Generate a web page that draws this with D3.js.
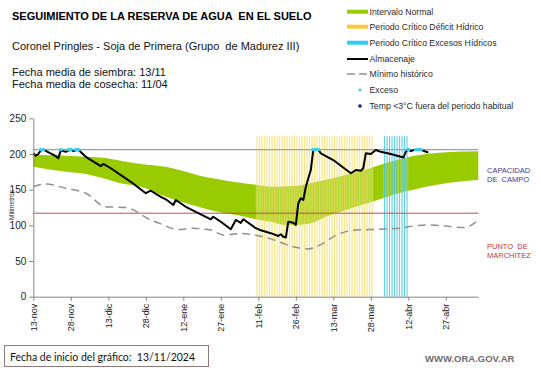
<!DOCTYPE html>
<html><head><meta charset="utf-8">
<script src="https://cdn.jsdelivr.net/npm/d3@7"></script>
<style>
html,body{margin:0;padding:0;background:#fff;}
svg{display:block;font-family:"Liberation Sans",Arial,sans-serif;}
</style></head>
<body>
<svg id="chart" width="541" height="368"></svg>
<script>
// ---------- DATA ----------
const tickDates = ["2024-11-13","2024-11-28","2024-12-13","2024-12-28","2025-01-12","2025-01-27","2025-02-11","2025-02-26","2025-03-13","2025-03-28","2025-04-12","2025-04-27"];
const tickLabels = ["13-nov","28-nov","13-dic","28-dic","12-ene","27-ene","11-feb","26-feb","13-mar","28-mar","12-abr","27-abr"];
const yTicks = [0,50,100,150,200,250];

const bandDates = ["2024-11-13","2024-11-26","2024-12-04","2024-12-10","2024-12-18","2024-12-26","2025-01-05","2025-01-12","2025-01-19","2025-01-27","2025-02-03","2025-02-11","2025-02-16","2025-02-21","2025-02-25","2025-03-04","2025-03-10","2025-03-17","2025-03-24","2025-03-31","2025-04-06","2025-04-14","2025-04-19","2025-04-27","2025-05-10"];
const bandUpper = [199,197.5,196,195,190.5,186,182,176,169,164,160,156.5,154,154.5,155,159.5,164,170,176,184,190,197,200,202.5,204];
const bandLower = [182,175,172,167,159,154,140,132,125,118,114,108,105,101,100.5,103,112,120,128,136,143,150,154,159,163.5];

const minDates = ["2024-11-13","2024-11-18","2024-11-26","2024-12-04","2024-12-12","2024-12-20","2024-12-30","2025-01-03","2025-01-10","2025-01-16","2025-01-19","2025-01-23","2025-01-28","2025-02-04","2025-02-10","2025-02-16","2025-02-20","2025-02-25","2025-03-03","2025-03-08","2025-03-14","2025-03-21","2025-03-31","2025-04-09","2025-04-14","2025-04-21","2025-04-27","2025-05-04","2025-05-08","2025-05-10"];
const minValues = [154,158,152,145,126,125,107.5,102,94,96,95,93.5,86.5,88.5,86,81,76,70,67,73,86,93,94.5,96,99,100.5,99,97,102,108.5];

const almDates = ["2024-11-13","2024-11-14","2024-11-15","2024-11-16","2024-11-17","2024-11-22","2024-11-23","2024-11-24","2024-11-26","2024-11-28","2024-11-29","2024-12-01","2024-12-04","2024-12-10","2024-12-11","2024-12-14","2024-12-22","2024-12-28","2024-12-30","2025-01-03","2025-01-05","2025-01-08","2025-01-09","2025-01-13","2025-01-17","2025-01-21","2025-01-23","2025-01-24","2025-01-27","2025-01-31","2025-02-02","2025-02-04","2025-02-05","2025-02-10","2025-02-12","2025-02-16","2025-02-19","2025-02-20","2025-02-21","2025-02-22","2025-02-23","2025-02-25","2025-02-26","2025-02-27","2025-02-28","2025-03-01","2025-03-02","2025-03-04","2025-03-05","2025-03-07","2025-03-08","2025-03-13","2025-03-20","2025-03-22","2025-03-24","2025-03-25","2025-03-26","2025-03-28","2025-03-30","2025-04-01","2025-04-05","2025-04-09","2025-04-10","2025-04-11","2025-04-12","2025-04-13","2025-04-14","2025-04-17","2025-04-20"];
const almValues = [201,197.5,200,205,206,197,194,205,203,206,204,206,196,183,186,180,161,145,148.5,140,136.5,128.5,135.5,126,119,112,108.5,112,105,94.5,107.5,103.5,108.5,96,93,89,85,87.5,84,83,105,103.5,100.5,131,138,135.5,154,177.5,206,206,201,191.5,173,177.5,176.5,180,201,200,205.5,203,200,196,195,203,206.5,204,205.5,206,202];

const excesoDates = ["2024-11-16","2024-11-17","2024-11-24","2024-11-27","2024-11-28","2024-11-30","2024-12-01","2025-03-05","2025-03-06","2025-03-07","2025-04-12","2025-04-15","2025-04-16","2025-04-17"];
const excesoValues = [206,206,206,206,206,206,206,206,206,206,206,206,206,206];

const deficitPeriod = ["2025-02-10","2025-03-28"];
const excesoPeriod = ["2025-04-02","2025-04-11"];
const periodTop = 225;
const capacidadCampo = 206;
const puntoMarchitez = 117;
const domainDates = ["2024-11-13","2025-05-10"];

const legendLabels = ["Intervalo Normal","Periodo Crítico Déficit Hídrico","Periodo Crítico Excesos Hídricos","Almacenaje","Mínimo histórico","Exceso","Temp <3°C fuera del periodo habitual"];

// ---------- CHART ----------
const parse = d3.timeParse("%Y-%m-%d");
const svg = d3.select("#chart");
const x = d3.scaleTime().domain(domainDates.map(parse)).range([33.3, 478.3]);
const y = d3.scaleLinear().domain([0,250]).range([296.7, 118.3]);

const COL_GREEN = "#99cc00";

// Green band
const band = bandDates.map((d,i)=>({date:parse(d), hi:bandUpper[i], lo:bandLower[i]}));
svg.append("path").datum(band)
  .attr("d", d3.area().x(d=>x(d.date)).y0(d=>y(d.lo)).y1(d=>y(d.hi)).curve(d3.curveMonotoneX))
  .attr("fill", COL_GREEN);

// Period bars (one per day)
function periodBars(period, fill, fillOp, stroke, strokeOp, sw){
  const days = d3.timeDay.range(parse(period[0]), d3.timeDay.offset(parse(period[1]),1));
  const g = svg.append("g");
  const w = x(d3.timeDay.offset(days[0],1)) - x(days[0]);
  g.selectAll("rect").data(days).join("rect")
    .attr("x", d=>x(d)).attr("width", w)
    .attr("y", y(periodTop)).attr("height", y(0)-y(periodTop))
    .attr("fill", fill).attr("fill-opacity", fillOp);
  g.selectAll("line").data(days).join("line")
    .attr("x1", d=>x(d)+w/2).attr("x2", d=>x(d)+w/2)
    .attr("y1", y(periodTop)).attr("y2", y(0))
    .attr("stroke", stroke).attr("stroke-width", sw).attr("stroke-opacity", strokeOp);
}
periodBars(deficitPeriod, "#fff4b8", 0.3, "#f0d860", 0.75, 0.9);
periodBars(excesoPeriod, "#d8f3fa", 0.25, "#40c2de", 0.9, 0.9);

// Reference lines
svg.append("line").attr("x1", x.range()[0]).attr("x2", x.range()[1])
  .attr("y1", y(capacidadCampo)).attr("y2", y(capacidadCampo))
  .attr("stroke", "#8fa3c2").attr("stroke-width", 1.2);
svg.append("line").attr("x1", x.range()[0]).attr("x2", x.range()[1])
  .attr("y1", y(puntoMarchitez)).attr("y2", y(puntoMarchitez))
  .attr("stroke", "#c0504d").attr("stroke-width", 1);

// Minimum historic dashed
const minData = minDates.map((d,i)=>({date:parse(d), v:minValues[i]}));
svg.append("path").datum(minData)
  .attr("d", d3.line().x(d=>x(d.date)).y(d=>y(d.v)).curve(d3.curveMonotoneX))
  .attr("fill","none").attr("stroke","#909090").attr("stroke-width",1.5)
  .attr("stroke-dasharray","8,5");

// Almacenaje
const almData = almDates.map((d,i)=>({date:parse(d), v:almValues[i]}));
svg.append("path").datum(almData)
  .attr("d", d3.line().x(d=>x(d.date)).y(d=>y(d.v)))
  .attr("fill","none").attr("stroke","#000").attr("stroke-width",2).attr("stroke-linejoin","round");

// Exceso points
svg.append("g").selectAll("ellipse").data(excesoDates.map((d,i)=>({date:parse(d), v:excesoValues[i]})))
  .join("ellipse").attr("cx", d=>x(d.date)).attr("cy", d=>y(d.v))
  .attr("rx",2.2).attr("ry",1.6).attr("fill","#33ccee");

// Axes
const xAxis = svg.append("g").attr("transform", `translate(0,${y(0)})`)
  .call(d3.axisBottom(x).tickValues(tickDates.map(parse)).tickFormat((d,i)=>tickLabels[i]).tickSize(4).tickSizeOuter(0));
xAxis.select(".domain").attr("stroke","#868686");
xAxis.selectAll(".tick line").attr("stroke","#868686");
xAxis.selectAll(".tick text")
  .attr("transform","rotate(-90)").attr("text-anchor","end")
  .attr("x",-7).attr("y",0).attr("dy","0.35em")
  .attr("font-size","9px").attr("fill","#222").attr("font-family","'Liberation Sans',Arial,sans-serif");

const yAxis = svg.append("g").attr("transform", `translate(${x.range()[0]},0)`)
  .call(d3.axisLeft(y).tickValues(yTicks).tickSize(4).tickSizeOuter(0));
yAxis.select(".domain").attr("stroke","#868686");
yAxis.selectAll(".tick line").attr("stroke","#868686");
yAxis.selectAll(".tick text").attr("font-size","10px").attr("fill","#222").attr("x",-7)
  .attr("font-family","'Liberation Sans',Arial,sans-serif");

svg.append("text").attr("transform","translate(14,205) rotate(-90)")
  .attr("text-anchor","middle").attr("font-size","6.5px").attr("fill","#222").text("Milímetros");

// Right labels
svg.append("text").attr("x",487).attr("y",172.7).attr("font-size","7.5px").attr("fill","#3b3b9e").text("CAPACIDAD");
svg.append("text").attr("x",487).attr("y",181.7).attr("font-size","7.5px").attr("fill","#3b3b9e").style("white-space","pre").text("DE  CAMPO");
svg.append("text").attr("x",487).attr("y",249.3).attr("font-size","7.5px").attr("fill","#c0392b").style("white-space","pre").text("PUNTO  DE");
svg.append("text").attr("x",487).attr("y",258.3).attr("font-size","7.5px").attr("fill","#c0392b").text("MARCHITEZ");

// Titles
svg.append("text").attr("x",12).attr("y",20).attr("font-size","11px").attr("font-weight","bold").attr("fill","#000")
  .style("white-space","pre").text("SEGUIMIENTO DE LA RESERVA DE AGUA  EN EL SUELO");
svg.append("text").attr("x",12).attr("y",49.5).attr("font-size","11px").attr("fill","#111")
  .style("white-space","pre").text("Coronel Pringles - Soja de Primera (Grupo  de Madurez III)");
svg.append("text").attr("x",12).attr("y",76).attr("font-size","11px").attr("fill","#111").text("Fecha media de siembra: 13/11");
svg.append("text").attr("x",12).attr("y",87.5).attr("font-size","11px").attr("fill","#111").text("Fecha media de cosecha: 11/04");

// Legend
const lg = svg.append("g");
const lx0 = 347, lx1 = 368, ltx = 369.5;
const rows = [11.7, 26.7, 42.7, 59, 74, 90, 106];
lg.append("rect").attr("x",lx0).attr("y",rows[0]-2).attr("width",lx1-lx0).attr("height",4).attr("fill",COL_GREEN);
lg.append("rect").attr("x",lx0).attr("y",rows[1]-2).attr("width",lx1-lx0).attr("height",4).attr("fill","#fcc83c");
lg.append("rect").attr("x",lx0).attr("y",rows[2]-2).attr("width",lx1-lx0).attr("height",4).attr("fill","#33ccee");
lg.append("line").attr("x1",lx0).attr("x2",lx1).attr("y1",rows[3]).attr("y2",rows[3]).attr("stroke","#000").attr("stroke-width",2);
lg.append("line").attr("x1",lx0).attr("x2",lx1).attr("y1",rows[4]).attr("y2",rows[4]).attr("stroke","#909090").attr("stroke-width",1.5).attr("stroke-dasharray","8,4");
lg.append("rect").attr("x",358.8).attr("y",rows[5]-1.2).attr("width",2.4).attr("height",2.4).attr("fill","#33ccee");
lg.append("path").attr("d",`M360,${rows[6]-2.3} L362.3,${rows[6]} L360,${rows[6]+2.3} L357.7,${rows[6]} Z`).attr("fill","#1f2f9f");
lg.selectAll("text").data(legendLabels).join("text")
  .attr("x",ltx).attr("y",(d,i)=>rows[i]+3).attr("font-size","8.7px").attr("fill","#2a2a2a").text(d=>d);

// Bottom box
svg.append("rect").attr("x",4.5).attr("y",345.5).attr("width",204).attr("height",21)
  .attr("fill","#fff").attr("stroke","#8c7b7b").attr("stroke-width",1);
svg.append("text").attr("x",10).attr("y",360.5).attr("font-size","10.5px").attr("fill","#111")
  .attr("font-family","Lato,'Open Sans',sans-serif").style("white-space","pre").text("Fecha de inicio del gráfico:  13/11/2024");
svg.append("text").attr("x",425).attr("y",362).attr("font-size","9.5px").attr("font-weight","bold").attr("fill","#6e6e6e").text("WWW.ORA.GOV.AR");
</script>
</body></html>
